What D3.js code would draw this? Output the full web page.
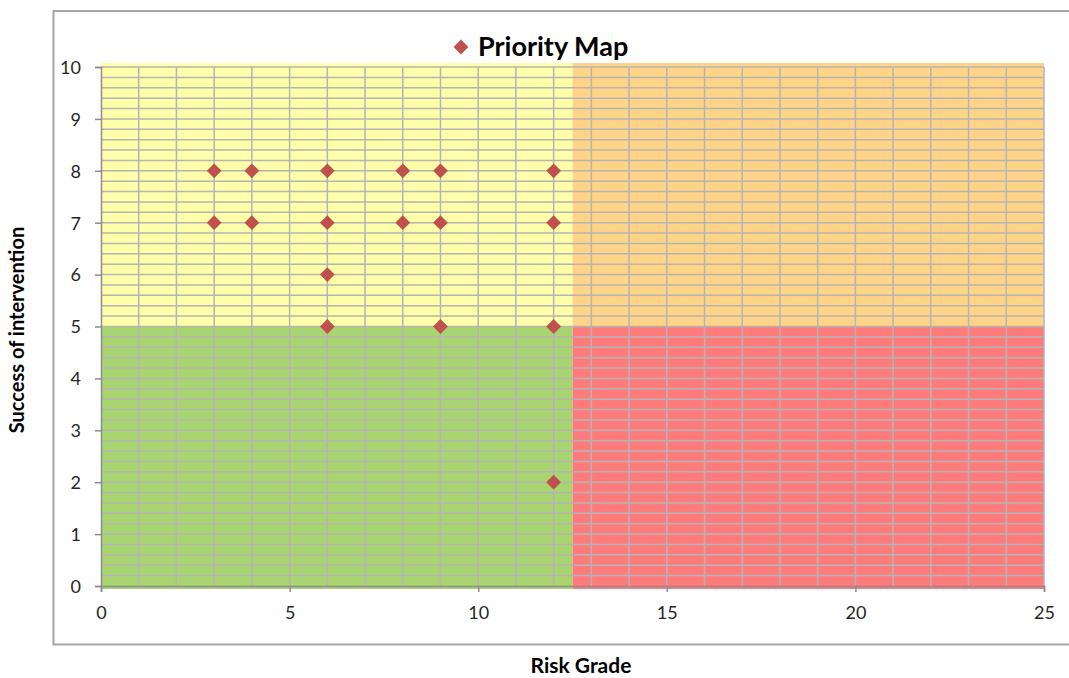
<!DOCTYPE html>
<html>
<head>
<meta charset="utf-8">
<script src="https://cdn.jsdelivr.net/npm/d3@7"></script>
<style>
  html, body { margin: 0; padding: 0; background: #fff; }
  svg { display: block; font-family: Lato, "Liberation Sans", sans-serif; }
</style>
</head>
<body>
<svg id="chart" width="1069" height="678"></svg>
<script>
// Priority points: risk grade vs. success of intervention
const riskGrade = [3, 4, 6, 8, 9, 12, 3, 4, 6, 8, 9, 12, 6, 6, 9, 12, 12];
const success   = [8, 8, 8, 8, 8, 8, 7, 7, 7, 7, 7, 7, 6, 5, 5, 5, 2];

// Quadrant bands (x split, y split) and their fills
const zoneXBreaks = [0, 12.5, 25];
const zoneYBreaks = [0, 5, 10];
const zoneColors = [
  ["#A9D571", "#FF7B7B"],   // lower half: left, right
  ["#FFFFA9", "#FFD486"]    // upper half: left, right
];

const xTicks = [0, 5, 10, 15, 20, 25];
const yTicks = [0, 1, 2, 3, 4, 5, 6, 7, 8, 9, 10];

const svg = d3.select("#chart");

const x = d3.scaleLinear().domain([0, 25]).range([101, 1044]);
const y = d3.scaleLinear().domain([0, 10]).range([586, 67]);

// Outer chart frame
svg.append("path")
  .attr("d", "M1075,11 H53.5 V644.5 H1075")
  .attr("fill", "none")
  .attr("stroke", "#A6A6A6")
  .attr("stroke-width", 2);

// Quadrant fills
const zones = [];
for (let r = 0; r < 2; r++) {
  for (let c = 0; c < 2; c++) {
    zones.push({ x0: zoneXBreaks[c], x1: zoneXBreaks[c + 1], y0: zoneYBreaks[r], y1: zoneYBreaks[r + 1], fill: zoneColors[r][c] });
  }
}
svg.append("g").selectAll("rect")
  .data(zones)
  .join("rect")
  .attr("x", d => x(d.x0))
  .attr("y", d => y(d.y1) - (d.y1 === 10 ? 4 : 0))
  .attr("width", d => x(d.x1) - x(d.x0))
  .attr("height", d => y(d.y0) - y(d.y1) + (d.y1 === 10 ? 4 : 0) + (d.y0 === 0 ? 3 : 0))
  .attr("fill", d => d.fill);

// Gridlines: every unit of risk grade, every 0.2 of success
const grid = svg.append("g").attr("stroke", "#B4B4B4").attr("stroke-width", 1.5);
grid.selectAll("line.v")
  .data(d3.range(1, 26))
  .join("line")
  .attr("class", "v")
  .attr("x1", d => x(d)).attr("x2", d => x(d))
  .attr("y1", y(0)).attr("y2", y(10));
grid.selectAll("line.h")
  .data(d3.range(1, 51).map(i => i * 0.2))
  .join("line")
  .attr("class", "h")
  .attr("x1", x(0)).attr("x2", x(25))
  .attr("y1", d => y(d)).attr("y2", d => y(d));

// Axes
const xAxis = d3.axisBottom(x).tickValues(xTicks).tickSize(6).tickPadding(14).tickFormat(d3.format("d"));
const yAxis = d3.axisLeft(y).tickValues(yTicks).tickSize(6).tickPadding(14).tickFormat(d3.format("d"));

const gx = svg.append("g").attr("transform", `translate(0,${y(0)})`).call(xAxis);
const gy = svg.append("g").attr("transform", `translate(${x(0)},0)`).call(yAxis);
[gx, gy].forEach(g => {
  g.select(".domain").attr("stroke", "#8C8C8C").attr("stroke-width", 1.5);
  g.selectAll(".tick line").attr("stroke", "#8C8C8C").attr("stroke-width", 1.5);
  g.selectAll(".tick text").attr("fill", "#262626").style("font-size", "18px").style("font-family", "Lato, sans-serif");
});
gy.selectAll(".tick text").attr("dy", "0.35em");

// Points
const diamond = d3.symbol().type(d3.symbolDiamond2).size(140);
svg.append("g").selectAll("path")
  .data(riskGrade.map((r, i) => ({ r, s: success[i] })))
  .join("path")
  .attr("d", diamond)
  .attr("transform", d => `translate(${x(d.r)},${y(d.s)})`)
  .attr("fill", "#C0504D");

// Title with legend marker
svg.append("path")
  .attr("d", diamond)
  .attr("transform", "translate(461,47)")
  .attr("fill", "#C0504D");
svg.append("text")
  .attr("x", 478).attr("y", 56)
  .attr("font-size", 27).attr("font-weight", "bold").attr("fill", "#000")
  .text("Priority Map");

// Axis titles
svg.append("text")
  .attr("x", 581).attr("y", 673)
  .attr("text-anchor", "middle")
  .attr("font-size", 21).attr("font-weight", "bold").attr("fill", "#000")
  .text("Risk Grade");
svg.append("text")
  .attr("transform", "translate(24,330) rotate(-90)")
  .attr("text-anchor", "middle")
  .attr("font-size", 20).attr("font-weight", "bold").attr("fill", "#000")
  .text("Success of intervention");
</script>
</body>
</html>
